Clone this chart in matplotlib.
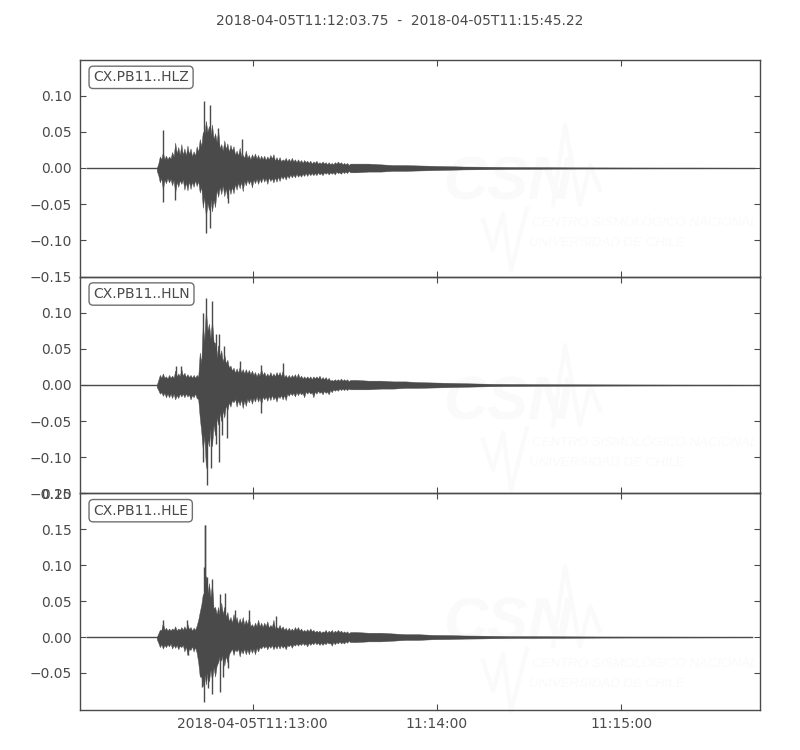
import matplotlib
matplotlib.use("Agg")
import matplotlib.pyplot as plt
from matplotlib.lines import Line2D

title = "2018-04-05T11:12:03.75  -  2018-04-05T11:15:45.22"
channels = ["CX.PB11..HLZ", "CX.PB11..HLN", "CX.PB11..HLE"]
tick_seconds = [56.25, 116.25, 176.25]
tick_labels = ["2018-04-05T11:13:00", "11:14:00", "11:15:00"]

seconds = [25, 26, 27, 28, 29, 30, 31, 32, 33, 34, 35, 36, 37, 38, 39, 40, 41, 42, 43, 44, 45,
           46, 47, 48, 49, 50, 51, 52, 53, 54, 55, 56, 57, 58, 59, 60, 61, 62, 63, 64, 65, 66,
           67, 68, 69, 70, 71, 72, 73, 74, 75, 76, 77, 78, 79, 80, 81, 82, 83, 84, 85, 86, 87, 88,
           90, 94, 98, 102, 106, 110, 115, 120, 125, 130, 135, 140, 150, 160, 170, 180, 190, 200, 210, 219]

hlz_up = [0, .016, .022, .017, .016, .022, .035, .029, .033, .027, .031, .027, .023, .030, .040, .050, .065, .058, .060, .048, .052,
          .033, .038, .034, .032, .030, .024, .028, .018, .024, .018, .019, .020, .018, .017, .017, .016, .018, .019, .015, .015, .012,
          .014, .013, .014, .012, .012, .011, .011, .010, .010, .009, .010, .008, .009, .008, .008, .007, .008, .009, .008, .007, .007, .006,
          .006, .006, .005, .004, .004, .0035, .003, .0025, .002, .0018, .0015, .0012, .001, .0008, .0007, .0006, .0005, .0005, .0004, .0003]
hlz_lo = [-.004, -.020, -.030, -.021, -.020, -.024, -.034, -.026, -.022, -.030, -.031, -.029, -.026, -.025, -.034, -.055, -.068, -.058, -.060, -.054, -.040,
          -.036, -.039, -.042, -.036, -.035, -.030, -.028, -.032, -.024, -.022, -.027, -.021, -.022, -.020, -.019, -.022, -.018, -.020, -.019, -.018, -.015,
          -.016, -.014, -.013, -.013, -.012, -.012, -.011, -.011, -.010, -.010, -.010, -.009, -.010, -.008, -.009, -.008, -.009, -.007, -.008, -.007, -.007, -.006,
          -.006, -.005, -.005, -.004, -.004, -.0035, -.003, -.0025, -.002, -.0018, -.0015, -.0012, -.001, -.0008, -.0007, -.0006, -.0005, -.0005, -.0004, -.0003]
hln_up = [0, .014, .016, .012, .014, .013, .020, .016, .022, .017, .015, .014, .014, .014, .045, .085, .105, .085, .090, .058, .055,
          .048, .042, .035, .027, .024, .023, .025, .022, .022, .021, .020, .018, .017, .022, .018, .016, .018, .016, .018, .018, .020,
          .014, .014, .014, .015, .016, .013, .012, .012, .012, .012, .012, .013, .011, .011, .010, .007, .008, .008, .009, .008, .008, .007,
          .007, .006, .006, .005, .005, .004, .0035, .003, .0025, .002, .0015, .0013, .001, .0009, .0008, .0007, .0006, .0005, .0005, .0004]
hln_lo = [-.003, -.012, -.015, -.017, -.017, -.018, -.020, -.018, -.016, -.017, -.016, -.020, -.017, -.018, -.045, -.090, -.115, -.085, -.085, -.070, -.055,
          -.050, -.045, -.035, -.030, -.024, -.030, -.028, -.032, -.029, -.024, -.026, -.023, -.023, -.027, -.020, -.022, -.021, -.020, -.023, -.018, -.020,
          -.021, -.015, -.014, -.016, -.014, -.013, -.017, -.012, -.012, -.017, -.012, -.011, -.013, -.011, -.013, -.010, -.008, -.008, -.007, -.007, -.007, -.006,
          -.006, -.006, -.005, -.005, -.004, -.004, -.0035, -.003, -.0025, -.002, -.0015, -.0013, -.001, -.0009, -.0008, -.0007, -.0006, -.0005, -.0005, -.0004]
hle_up = [0, .010, .020, .013, .012, .012, .015, .012, .014, .015, .018, .014, .013, .016, .035, .060, .085, .075, .075, .042, .042,
          .048, .042, .035, .028, .032, .028, .026, .028, .024, .027, .018, .020, .024, .020, .020, .022, .017, .024, .014, .017, .015,
          .013, .013, .012, .014, .014, .012, .010, .011, .012, .010, .009, .009, .008, .010, .009, .010, .009, .010, .009, .008, .008, .007,
          .007, .006, .006, .005, .004, .004, .003, .0028, .0022, .002, .0016, .0012, .0011, .0009, .0007, .0006, .0006, .0005, .0004, .0003]
hle_lo = [-.003, -.014, -.016, -.014, -.013, -.016, -.015, -.017, -.014, -.020, -.025, -.018, -.020, -.022, -.055, -.068, -.066, -.062, -.060, -.055, -.035,
          -.033, -.040, -.035, -.020, -.025, -.020, -.027, -.023, -.024, -.024, -.022, -.024, -.020, -.016, -.015, -.017, -.015, -.017, -.016, -.016, -.015,
          -.017, -.013, -.015, -.012, -.012, -.011, -.011, -.013, -.011, -.010, -.010, -.011, -.011, -.010, -.009, -.012, -.010, -.009, -.009, -.009, -.008, -.007,
          -.007, -.006, -.006, -.005, -.004, -.004, -.003, -.0028, -.0022, -.002, -.0016, -.0012, -.0011, -.0009, -.0007, -.0006, -.0006, -.0005, -.0004, -.0003]

# Envelope notches between the peaks above
half_seconds = [25.5, 26.5, 27.5, 28.5, 29.5, 30.5, 31.5, 32.5, 33.5, 34.5, 35.5, 36.5, 37.5, 38.5, 39.5, 40.5, 41.5, 42.5, 43.5, 44.5, 45.5,
                46.5, 47.5, 48.5, 49.5, 50.5, 51.5, 52.5, 53.5, 54.5, 55.5, 56.5, 57.5, 58.5, 59.5, 60.5, 61.5, 62.5, 63.5, 64.5, 65.5, 66.5,
                67.5, 68.5, 69.5, 70.5, 71.5, 72.5, 73.5, 74.5, 75.5, 76.5, 77.5, 78.5, 79.5, 80.5, 81.5, 82.5, 83.5, 84.5, 85.5, 86.5, 87.5]
hlz_up_n = [.006, .012, .012, .012, .013, .016, .020, .018, .018, .017, .019, .016, .017, .022, .030, .045, .050, .045, .040, .036, .027,
            .024, .026, .022, .024, .018, .017, .016, .014, .014, .012, .014, .013, .012, .012, .011, .012, .013, .010, .010, .009, .010,
            .009, .009, .009, .008, .008, .007, .008, .007, .006, .007, .006, .006, .006, .005, .005, .005, .006, .006, .005, .005, .004]
hlz_lo_n = [-.010, -.014, -.016, -.014, -.015, -.016, -.019, -.017, -.016, -.020, -.018, -.019, -.017, -.018, -.026, -.040, -.048, -.042, -.044, -.030, -.026,
            -.024, -.028, -.026, -.026, -.022, -.020, -.019, -.018, -.016, -.017, -.016, -.015, -.015, -.013, -.014, -.013, -.014, -.013, -.012, -.011, -.011,
            -.010, -.009, -.009, -.008, -.009, -.008, -.007, -.007, -.007, -.007, -.006, -.007, -.006, -.006, -.006, -.006, -.005, -.006, -.005, -.005, -.004]
hln_up_n = [.007, .010, .010, .009, .010, .010, .012, .012, .013, .011, .011, .010, .010, .011, .030, .060, .075, .065, .060, .038, .040,
            .032, .030, .024, .020, .017, .017, .017, .016, .016, .015, .014, .012, .013, .014, .012, .012, .012, .012, .013, .012, .011,
            .010, .010, .011, .010, .010, .009, .009, .009, .008, .009, .009, .008, .008, .007, .006, .006, .006, .006, .006, .006, .005]
hln_lo_n = [-.007, -.010, -.011, -.012, -.012, -.012, -.014, -.012, -.012, -.012, -.013, -.014, -.012, -.020, -.065, -.070, -.075, -.060, -.055, -.045, -.038,
            -.035, -.028, -.024, -.021, -.019, -.021, -.020, -.021, -.019, -.018, -.018, -.016, -.017, -.016, -.016, -.015, -.014, -.016, -.015, -.014, -.014,
            -.012, -.011, -.011, -.010, -.010, -.011, -.009, -.009, -.010, -.009, -.008, -.009, -.008, -.009, -.007, -.006, -.006, -.005, -.005, -.005, -.005]
hle_up_n = [.005, .010, .010, .009, .009, .010, .009, .010, .010, .010, .011, .009, .010, .024, .045, .060, .060, .055, .040, .032, .030,
            .032, .028, .022, .020, .021, .018, .019, .017, .018, .015, .014, .015, .015, .014, .015, .013, .014, .012, .012, .011, .010,
            .009, .009, .009, .010, .009, .008, .008, .008, .008, .007, .007, .006, .007, .006, .007, .006, .007, .007, .006, .006, .005]
hle_lo_n = [-.008, -.010, -.011, -.010, -.009, -.011, -.011, -.012, -.011, -.013, -.016, -.013, -.014, -.035, -.055, -.050, -.050, -.045, -.042, -.040, -.026,
            -.024, -.026, -.024, -.016, -.017, -.016, -.018, -.016, -.017, -.016, -.016, -.015, -.014, -.012, -.012, -.012, -.011, -.012, -.011, -.011, -.012,
            -.011, -.010, -.010, -.009, -.009, -.008, -.009, -.008, -.008, -.007, -.008, -.008, -.008, -.007, -.008, -.007, -.007, -.006, -.007, -.006, -.005]

hlz_spike_t = [26.9, 26.9, 30.9, 40.3, 41.0, 42.3, 42.5, 45.0, 48.2, 52.7]
hlz_spike_v = [.053, -.047, -.044, .093, -.090, .087, -.083, .055, -.048, .040]
hln_spike_t = [31.2, 33.0, 40.0, 41.0, 41.2, 40.1, 43.0, 42.8, 44.2, 44.2, 45.3, 45.3, 46.3, 46.8, 47.8, 52.2, 59.0, 59.1, 66.1]
hln_spike_v = [.026, .026, .100, .121, -.138, -.106, .116, -.115, .070, -.081, .071, -.107, -.069, .054, -.074, .033, .028, -.039, .030]
hle_spike_t = [27.1, 34.9, 35.2, 39.6, 40.3, 40.3, 40.65, 40.7, 41.2, 41.8, 43.1, 43.1, 45.5, 45.7, 46.6, 47.3, 48.2, 50.4, 55.0, 63.7]
hle_spike_v = [.024, .024, -.025, -.069, .098, -.090, .156, .156, .084, -.071, .081, -.079, -.076, .060, -.055, .061, -.043, .037, .038, .030]

trace_start = [2.3, 0.5, 2.3]
trace_end = [219.5, 221.4, 219.0]
panel_ylim = [(-0.15, 0.149), (-0.15, 0.15), (-0.1015, 0.2)]
panel_yticks = [[-.15, -.10, -.05, 0, .05, .10], [-.15, -.10, -.05, 0, .05, .10], [-.05, 0, .05, .10, .15, .20]]
panel_series = [(hlz_up, hlz_lo, hlz_up_n, hlz_lo_n, hlz_spike_t, hlz_spike_v),
                (hln_up, hln_lo, hln_up_n, hln_lo_n, hln_spike_t, hln_spike_v),
                (hle_up, hle_lo, hle_up_n, hle_lo_n, hle_spike_t, hle_spike_v)]
watermark_dy = [0, 220, 441]

DARK = "#4a4a4a"
WM = "#fafafa"
W, H = 800, 750


def fx(x):
    return x / W


def fy(y):
    return 1 - y / H


fig = plt.figure(figsize=(8, 7.5), dpi=100, facecolor="white")
gs = fig.add_gridspec(3, 1, left=0.1, right=0.95, top=0.92, bottom=1 - 710 / 750, hspace=0)

for dy in watermark_dy:
    fig.add_artist(Line2D([fx(v) for v in (553, 565, 580, 590, 600)],
                          [fy(v + dy) for v in (205, 125, 205, 165, 190)],
                          color=WM, lw=3, zorder=-1))
    fig.add_artist(Line2D([fx(v) for v in (483, 493, 503, 511, 527)],
                          [fy(v + dy) for v in (220, 250, 213, 270, 208)],
                          color=WM, lw=3, zorder=-1))
    fig.text(fx(508), fy(184 + dy), "CSN", fontsize=44, family="Liberation Sans", style="italic",
             weight="bold", color=WM, ha="center", va="center", zorder=-1)
    fig.text(fx(532), fy(223 + dy), "CENTRO SISMOLÓGICO NACIONAL", fontsize=9.5, family="Liberation Sans",
             style="italic", color=WM, ha="left", va="center", zorder=-1)
    fig.text(fx(529), fy(243 + dy), "UNIVERSIDAD DE CHILE", fontsize=9.5, family="Liberation Sans",
             style="italic", color=WM, ha="left", va="center", zorder=-1)

for i, name in enumerate(channels):
    ax = fig.add_subplot(gs[i])
    ax.patch.set_alpha(0)
    up, lo, up_n, lo_n, sp_t, sp_v = panel_series[i]
    merged = sorted(zip(seconds + half_seconds, up + up_n, lo + lo_n))
    t_all = [m[0] for m in merged]
    up_all = [m[1] for m in merged]
    lo_all = [m[2] for m in merged]
    ax.plot([trace_start[i], trace_end[i]], [0, 0], color=DARK, lw=1)
    ax.fill_between(t_all, lo_all, up_all, color=DARK, lw=0.3)
    ax.vlines(sp_t, 0, sp_v, color=DARK, lw=1)
    ax.set_xlim(0, 221.47)
    ax.set_ylim(*panel_ylim[i])
    ax.set_yticks(panel_yticks[i])
    ax.set_yticklabels([f"{v:.2f}".replace("-", "\u2212") for v in panel_yticks[i]])
    ax.set_xticks(tick_seconds)
    ax.set_xticklabels(tick_labels if i == 2 else [])
    ax.tick_params(direction="in", top=True, right=True, length=4, width=0.8,
                   color=DARK, labelcolor=DARK, labelsize=10, pad=6)
    ax.tick_params(axis="x", pad=5)
    for s in ax.spines.values():
        s.set_color(DARK)
        s.set_linewidth(1.0)
    ax.annotate(name, xy=(0, 1), xycoords="axes fraction", xytext=(9.5, -12.5), textcoords="offset points",
                fontsize=10, color=DARK, ha="left", va="center",
                bbox=dict(boxstyle="round,pad=0.3", fc="white", ec="#707070", lw=1))

fig.text(0.5, fy(21), title, ha="center", va="center", fontsize=10, color=DARK)
fig.savefig("out.png", dpi=100)
